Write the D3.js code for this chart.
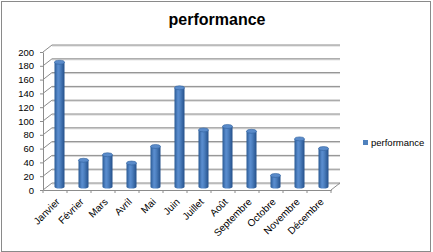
<!DOCTYPE html>
<html>
<head>
<meta charset="utf-8">
<script src="https://cdn.jsdelivr.net/npm/d3@7"></script>
<style>
  body { margin: 0; background: #fff; }
  text { font-family: "Liberation Sans", Arial, sans-serif; }
</style>
</head>
<body>
<div id="chart"></div>
<script>
// data
var months = ["Janvier", "Février", "Mars", "Avril", "Mai", "Juin", "Juillet", "Août", "Septembre", "Octobre", "Novembre", "Décembre"];
var performance = [180, 38, 46, 34, 58, 143, 82, 87, 80, 16, 69, 55];
var yTicks = [0, 20, 40, 60, 80, 100, 120, 140, 160, 180, 200];
var seriesName = "performance";

var svgWidth = 433, svgHeight = 252;

// 3d depth offset of the back wall
var depth = { x: 9, y: -7 };

var svg = d3.select("#chart").append("svg")
  .attr("width", svgWidth)
  .attr("height", svgHeight);

// gradient for the cylinders
var defs = svg.append("defs");
var grad = defs.append("linearGradient").attr("id", "cyl")
  .attr("x1", "0%").attr("x2", "100%").attr("y1", "0%").attr("y2", "0%");
grad.append("stop").attr("offset", "0%").attr("stop-color", "#2a5a94");
grad.append("stop").attr("offset", "35%").attr("stop-color", "#5b8ed0");
grad.append("stop").attr("offset", "55%").attr("stop-color", "#4f82c2");
grad.append("stop").attr("offset", "100%").attr("stop-color", "#24508a");

// outer frame
svg.append("rect")
  .attr("x", 1.5).attr("y", 1.5)
  .attr("width", 429).attr("height", 250)
  .attr("fill", "none").attr("stroke", "#8a8a8a");

// title
svg.append("text")
  .attr("x", 217).attr("y", 25)
  .attr("text-anchor", "middle")
  .attr("font-size", "16px").attr("font-weight", "bold")
  .attr("fill", "#000")
  .text("performance");

// scales (front plane)
var x = d3.scaleBand().domain(months).range([43, 331]).padding(0);
var y = d3.scaleLinear().domain([0, 200]).range([190, 52]);

// back wall gridlines + side wall diagonals
var grid = svg.append("g");
yTicks.forEach(function(t) {
  var yb = y(t) + depth.y;
  grid.append("line")
    .attr("x1", x.range()[0] + depth.x).attr("x2", x.range()[1] + depth.x)
    .attr("y1", yb + 1).attr("y2", yb + 1)
    .attr("stroke", "#d4d4d4");
  grid.append("line")
    .attr("x1", x.range()[0] + depth.x).attr("x2", x.range()[1] + depth.x)
    .attr("y1", yb).attr("y2", yb)
    .attr("stroke", "#8c8c8c");
  grid.append("line")
    .attr("x1", x.range()[0]).attr("x2", x.range()[0] + depth.x)
    .attr("y1", y(t)).attr("y2", yb)
    .attr("stroke", "#8c8c8c");
});
// floor right edge
grid.append("line")
  .attr("x1", x.range()[1]).attr("y1", y(0))
  .attr("x2", x.range()[1] + depth.x).attr("y2", y(0) + depth.y)
  .attr("stroke", "#8c8c8c");

// cylinders placed mid-depth
var barW = 10, ry = 2;
var bars = svg.append("g").selectAll("g")
  .data(performance)
  .enter().append("g");

function cx(d, i) { return x(months[i]) + x.bandwidth() / 2 + depth.x / 2; }
function cy(v) { return y(v) + depth.y / 2; }

bars.append("path")
  .attr("d", function(d, i) {
    var c = cx(d, i), top = cy(d), base = cy(0), r = barW / 2;
    return "M" + (c - r) + "," + top +
      "L" + (c - r) + "," + base +
      "A" + r + "," + ry + " 0 0 0 " + (c + r) + "," + base +
      "L" + (c + r) + "," + top + "Z";
  })
  .attr("fill", "url(#cyl)");

bars.append("ellipse")
  .attr("cx", cx)
  .attr("cy", function(d) { return cy(d); })
  .attr("rx", barW / 2).attr("ry", ry)
  .attr("fill", "#5a8bca")
  .attr("stroke", "#2f5f9c").attr("stroke-width", 0.6);

// y axis
var yAxis = svg.append("g")
  .attr("transform", "translate(" + x.range()[0] + ",0)")
  .call(d3.axisLeft(y).tickValues(yTicks).tickSize(3).tickPadding(6).tickSizeOuter(0));
yAxis.select(".domain").attr("stroke", "#8c8c8c");
yAxis.selectAll(".tick line").attr("stroke", "#8c8c8c");
yAxis.selectAll("text")
  .attr("font-family", "Liberation Sans, Arial, sans-serif")
  .attr("font-size", "9.5px").attr("fill", "#000");

// x axis with ticks at category boundaries
var xAxis = svg.append("g")
  .attr("transform", "translate(0," + y(0) + ")")
  .call(d3.axisBottom(x).tickSize(0).tickPadding(0));
xAxis.select(".domain").attr("stroke", "#8c8c8c");
xAxis.selectAll("text")
  .attr("font-family", "Liberation Sans, Arial, sans-serif")
  .attr("font-size", "10px").attr("fill", "#000")
  .attr("text-anchor", "end")
  .attr("dy", "0.35em")
  .attr("transform", "translate(3,10) rotate(-45)");

var bounds = months.map(function(m) { return x(m); }).concat([x.range()[1]]);
svg.append("g").selectAll("line")
  .data(bounds)
  .enter().append("line")
  .attr("x1", d => d).attr("x2", d => d)
  .attr("y1", y(0)).attr("y2", y(0) + 3)
  .attr("stroke", "#8c8c8c");

// legend
var legend = svg.append("g").attr("transform", "translate(363,140)");
legend.append("rect")
  .attr("width", 5).attr("height", 5)
  .attr("fill", "#4f81bd");
legend.append("text")
  .attr("x", 8).attr("y", 6)
  .attr("font-size", "9.5px").attr("fill", "#000")
  .text(seriesName);
</script>
</body>
</html>
